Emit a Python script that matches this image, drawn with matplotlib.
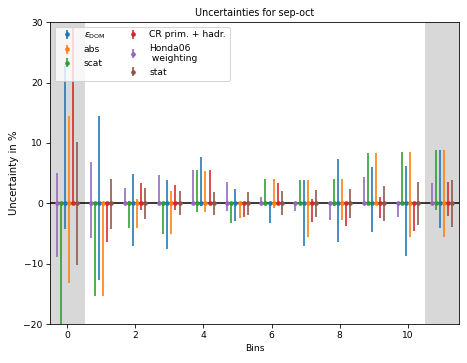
import matplotlib
matplotlib.use("Agg")
import matplotlib.pyplot as plt
import numpy as np

bins = np.arange(12)

# upper / lower uncertainty in % per bin
edom_up = [22.8, 14.4, 4.9, 3.9, 7.6, 2.3, 0.0, 3.9, 7.3, 6.1, 6.2, 8.9]
edom_dn = [4.2, 12.7, 7.1, 7.6, 0.4, 3.0, 3.2, 7.0, 6.4, 4.7, 8.7, 4.1]
abs_up = [14.4, 0.0, 0.7, 2.0, 5.3, 0.0, 4.0, 3.9, 4.0, 8.4, 8.5, 8.9]
abs_dn = [13.2, 15.3, 4.1, 5.1, 1.4, 2.5, 0.8, 5.5, 2.8, 0.0, 5.5, 5.5]
scat_up = [0.0, 0.0, 0.4, 0.0, 5.5, 0.3, 4.0, 3.9, 4.0, 8.4, 8.5, 8.9]
scat_dn = [22.0, 15.3, 4.1, 5.0, 1.4, 3.2, 0.0, 0.0, 0.4, 0.0, 0.0, 1.1]
cr_up = [29.0, 0.0, 3.3, 3.0, 5.5, 0.0, 3.3, 0.8, 0.0, 1.1, 0.0, 3.6]
cr_dn = [0.0, 6.4, 1.1, 1.1, 0.3, 2.3, 0.0, 3.1, 3.8, 2.4, 4.5, 2.1]
honda_up = [5.0, 6.9, 2.6, 4.7, 5.6, 3.6, 1.1, 0.0, 0.0, 4.4, 0.0, 3.3]
honda_dn = [8.8, 5.8, 0.0, 0.0, 0.0, 1.2, 0.0, 1.3, 2.8, 0.0, 2.3, 0.0]
stat_up = [10.2, 4.1, 2.6, 2.0, 1.8, 1.8, 2.0, 2.2, 2.4, 2.8, 3.6, 3.9]
stat_dn = [10.2, 4.2, 2.65, 2.0, 1.9, 1.9, 2.0, 2.2, 2.4, 2.9, 3.6, 3.9]

labels = [r'$\epsilon_{\rm DOM}$', 'abs', 'scat', 'CR prim. + hadr.', 'Honda06\n weighting', 'stat']
ups = [edom_up, abs_up, scat_up, cr_up, honda_up, stat_up]
dns = [edom_dn, abs_dn, scat_dn, cr_dn, honda_dn, stat_dn]
offsets = [-0.06, 0.06, -0.18, 0.18, -0.3, 0.3]

fig = plt.figure(figsize=(467 / 73, 363 / 73), dpi=73)
ax = fig.add_axes([0.107, 0.107, 0.876, 0.832])

ax.axvspan(-0.5, 0.5, color='#d8d8d8', zorder=0)
ax.axvspan(10.5, 11.5, color='#d8d8d8', zorder=0)
ax.axhline(0, color='black', lw=1.5, zorder=1)

for i in range(6):
    ax.errorbar(bins + offsets[i], np.zeros(12), yerr=[dns[i], ups[i]],
                fmt='o', ms=3.5, elinewidth=1.6, color='C%d' % i,
                label=labels[i], zorder=2)

ax.set_xlim(-0.5, 11.5)
ax.set_ylim(-20, 30)
ax.set_xticks([0, 2, 4, 6, 8, 10])
ax.set_yticks([-20, -10, 0, 10, 20, 30])
ax.tick_params(labelsize=9)
ax.set_xlabel('Bins', fontsize=9)
ax.set_ylabel('Uncertainty in %', fontsize=10)
ax.set_title('Uncertainties for sep-oct', fontsize=9.5)
ax.legend(loc='upper left', ncol=2, fontsize=9)

fig.savefig('out.png', dpi=73)
